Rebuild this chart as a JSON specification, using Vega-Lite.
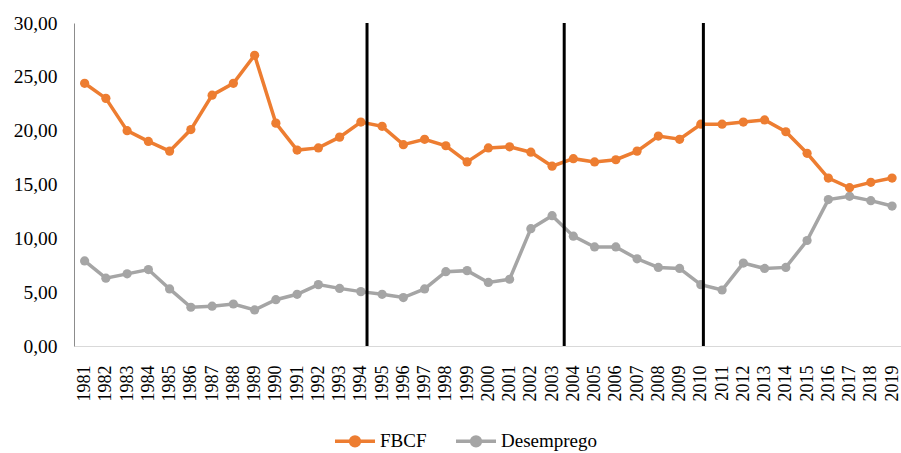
{
  "$schema": "https://vega.github.io/schema/vega-lite/v6.json",
  "width": 827,
  "height": 323,
  "autosize": {"type": "none"},
  "padding": {"left": 74, "top": 23, "right": 0, "bottom": 107},
  "background": "white",
  "config": {
    "locale": {"number": {"decimal": ",", "thousands": ".", "grouping": [3], "currency": ["R$", ""]}},
    "view": {"stroke": null},
    "font": "serif"
  },
  "datasets": {
    "series": [
      {"year": 1981, "series": "FBCF", "value": 24.4},
      {"year": 1982, "series": "FBCF", "value": 23.0},
      {"year": 1983, "series": "FBCF", "value": 20.0},
      {"year": 1984, "series": "FBCF", "value": 19.0},
      {"year": 1985, "series": "FBCF", "value": 18.1},
      {"year": 1986, "series": "FBCF", "value": 20.1},
      {"year": 1987, "series": "FBCF", "value": 23.3},
      {"year": 1988, "series": "FBCF", "value": 24.4},
      {"year": 1989, "series": "FBCF", "value": 27.0},
      {"year": 1990, "series": "FBCF", "value": 20.7},
      {"year": 1991, "series": "FBCF", "value": 18.2},
      {"year": 1992, "series": "FBCF", "value": 18.4},
      {"year": 1993, "series": "FBCF", "value": 19.4},
      {"year": 1994, "series": "FBCF", "value": 20.8},
      {"year": 1995, "series": "FBCF", "value": 20.4},
      {"year": 1996, "series": "FBCF", "value": 18.7},
      {"year": 1997, "series": "FBCF", "value": 19.2},
      {"year": 1998, "series": "FBCF", "value": 18.6},
      {"year": 1999, "series": "FBCF", "value": 17.1},
      {"year": 2000, "series": "FBCF", "value": 18.4},
      {"year": 2001, "series": "FBCF", "value": 18.5},
      {"year": 2002, "series": "FBCF", "value": 18.0},
      {"year": 2003, "series": "FBCF", "value": 16.7},
      {"year": 2004, "series": "FBCF", "value": 17.4},
      {"year": 2005, "series": "FBCF", "value": 17.1},
      {"year": 2006, "series": "FBCF", "value": 17.3},
      {"year": 2007, "series": "FBCF", "value": 18.1},
      {"year": 2008, "series": "FBCF", "value": 19.5},
      {"year": 2009, "series": "FBCF", "value": 19.2},
      {"year": 2010, "series": "FBCF", "value": 20.6},
      {"year": 2011, "series": "FBCF", "value": 20.6},
      {"year": 2012, "series": "FBCF", "value": 20.8},
      {"year": 2013, "series": "FBCF", "value": 21.0},
      {"year": 2014, "series": "FBCF", "value": 19.9},
      {"year": 2015, "series": "FBCF", "value": 17.9},
      {"year": 2016, "series": "FBCF", "value": 15.6},
      {"year": 2017, "series": "FBCF", "value": 14.7},
      {"year": 2018, "series": "FBCF", "value": 15.2},
      {"year": 2019, "series": "FBCF", "value": 15.6},
      {"year": 1981, "series": "Desemprego", "value": 7.9},
      {"year": 1982, "series": "Desemprego", "value": 6.3},
      {"year": 1983, "series": "Desemprego", "value": 6.7},
      {"year": 1984, "series": "Desemprego", "value": 7.1},
      {"year": 1985, "series": "Desemprego", "value": 5.3},
      {"year": 1986, "series": "Desemprego", "value": 3.6},
      {"year": 1987, "series": "Desemprego", "value": 3.7},
      {"year": 1988, "series": "Desemprego", "value": 3.9},
      {"year": 1989, "series": "Desemprego", "value": 3.35},
      {"year": 1990, "series": "Desemprego", "value": 4.3},
      {"year": 1991, "series": "Desemprego", "value": 4.8},
      {"year": 1992, "series": "Desemprego", "value": 5.7},
      {"year": 1993, "series": "Desemprego", "value": 5.35},
      {"year": 1994, "series": "Desemprego", "value": 5.05},
      {"year": 1995, "series": "Desemprego", "value": 4.8},
      {"year": 1996, "series": "Desemprego", "value": 4.5},
      {"year": 1997, "series": "Desemprego", "value": 5.3},
      {"year": 1998, "series": "Desemprego", "value": 6.9},
      {"year": 1999, "series": "Desemprego", "value": 7.0},
      {"year": 2000, "series": "Desemprego", "value": 5.9},
      {"year": 2001, "series": "Desemprego", "value": 6.2},
      {"year": 2002, "series": "Desemprego", "value": 10.9},
      {"year": 2003, "series": "Desemprego", "value": 12.1},
      {"year": 2004, "series": "Desemprego", "value": 10.2},
      {"year": 2005, "series": "Desemprego", "value": 9.2},
      {"year": 2006, "series": "Desemprego", "value": 9.2},
      {"year": 2007, "series": "Desemprego", "value": 8.1},
      {"year": 2008, "series": "Desemprego", "value": 7.3},
      {"year": 2009, "series": "Desemprego", "value": 7.2},
      {"year": 2010, "series": "Desemprego", "value": 5.7},
      {"year": 2011, "series": "Desemprego", "value": 5.2},
      {"year": 2012, "series": "Desemprego", "value": 7.7},
      {"year": 2013, "series": "Desemprego", "value": 7.2},
      {"year": 2014, "series": "Desemprego", "value": 7.3},
      {"year": 2015, "series": "Desemprego", "value": 9.8},
      {"year": 2016, "series": "Desemprego", "value": 13.6},
      {"year": 2017, "series": "Desemprego", "value": 13.9},
      {"year": 2018, "series": "Desemprego", "value": 13.5},
      {"year": 2019, "series": "Desemprego", "value": 13.0}
    ],
    "breaks": [
      {"year": 1994.29, "lo": 0, "hi": 30},
      {"year": 2003.57, "lo": 0, "hi": 30},
      {"year": 2010.12, "lo": 0, "hi": 30}
    ]
  },
  "encoding": {
    "x": {
      "field": "year", "type": "quantitative",
      "scale": {"domain": [1980.5, 2019.42], "nice": false, "zero": false},
      "axis": {
        "title": null,
        "values": [1981,1982,1983,1984,1985,1986,1987,1988,1989,1990,1991,1992,1993,1994,1995,1996,1997,1998,1999,2000,2001,2002,2003,2004,2005,2006,2007,2008,2009,2010,2011,2012,2013,2014,2015,2016,2017,2018,2019],
        "format": "d",
        "labelAngle": -90,
        "labelAlign": "right",
        "labelBaseline": "middle",
        "labelFontSize": 18,
        "labelFont": "Times New Roman",
        "labelColor": "#000000",
        "labelPadding": 19,
        "labelOverlap": false,
        "labelFlush": false,
        "labelBound": false,
        "ticks": false,
        "grid": false,
        "domainColor": "#D9D9D9",
        "domainWidth": 1
      }
    },
    "y": {
      "field": "value", "type": "quantitative",
      "scale": {"domain": [0, 30], "nice": false},
      "axis": {
        "title": null,
        "values": [0, 5, 10, 15, 20, 25, 30],
        "format": ".2f",
        "labelFontSize": 19.5,
        "labelFont": "Times New Roman",
        "labelColor": "#000000",
        "labelPadding": 17,
        "ticks": false,
        "grid": false,
        "domainColor": "#8C8C8C",
        "domainWidth": 1
      }
    }
  },
  "layer": [
    {
      "data": {"name": "series"},
      "transform": [{"filter": "datum.series === 'Desemprego'"}],
      "mark": {"type": "line", "strokeWidth": 3.5, "point": {"filled": true, "size": 85}},
      "encoding": {
        "color": {
          "field": "series", "type": "nominal",
          "scale": {"domain": ["FBCF", "Desemprego"], "range": ["#ED7D31", "#A5A5A5"]},
          "legend": {
            "title": null,
            "orient": "none",
            "direction": "horizontal",
            "legendX": 259,
            "legendY": 396,
            "labelFontSize": 19,
            "labelFont": "Times New Roman",
            "labelColor": "#000000",
            "symbolType": "M-1,0H1M0.22,0A0.22,0.22,0,1,1,-0.22,0A0.22,0.22,0,1,1,0.22,0Z",
            "symbolSize": 1600,
            "symbolStrokeWidth": 3.5,
            "labelOffset": 3,
            "columnPadding": 22,
            "encode": {
              "symbols": {"update": {"fill": {"scale": "color", "field": "value"}, "fillOpacity": {"value": 1}}}
            }
          }
        }
      }
    },
    {
      "data": {"name": "series"},
      "transform": [{"filter": "datum.series === 'FBCF'"}],
      "mark": {"type": "line", "strokeWidth": 3.5, "point": {"filled": true, "size": 85}},
      "encoding": {
        "color": {"field": "series", "type": "nominal"}
      }
    },
    {
      "data": {"name": "breaks"},
      "mark": {"type": "rule", "color": "#000000", "strokeWidth": 3},
      "encoding": {
        "x": {"field": "year", "type": "quantitative"},
        "y": {"field": "lo", "type": "quantitative"},
        "y2": {"field": "hi"}
      }
    }
  ]
}
